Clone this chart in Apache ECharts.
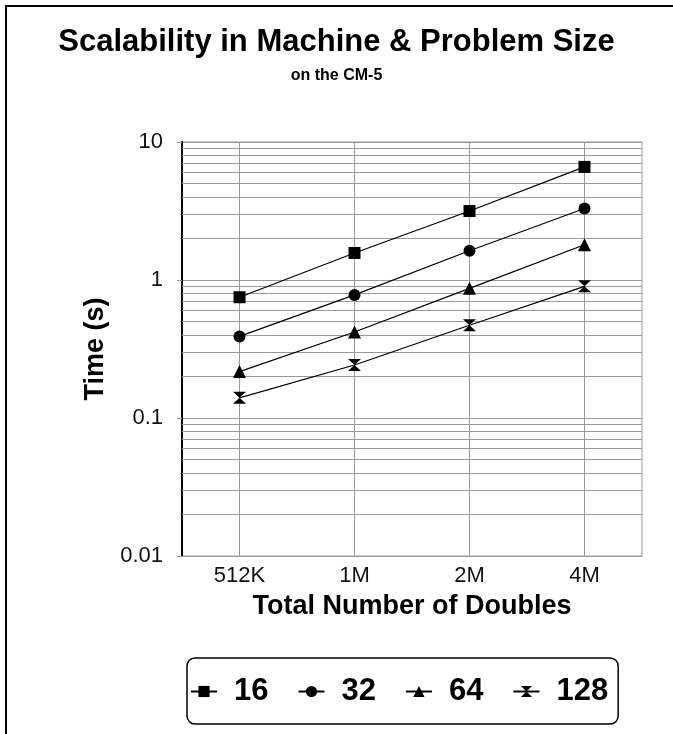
<!DOCTYPE html>
<html>
<head>
<meta charset="utf-8">
<script src="https://cdn.jsdelivr.net/npm/echarts@6/dist/echarts.min.js"></script>
<style>
  html, body { margin: 0; padding: 0; background: #fff; }
  #frame { position: absolute; left: 5px; top: 5px; right: -5px; bottom: -5px; border-top: 2px solid #000; border-left: 2px solid #000; }
  #chart { position: absolute; left: 0; top: 0; width: 673px; height: 734px; }
</style>
</head>
<body>
<div id="frame"></div>
<div id="chart"></div>
<script>
// problem sizes on the x axis
const sizes = ['512K', '1M', '2M', '4M']
// number of processors -> time in seconds
const procNames = ['16', '32', '64', '128']
const time16 = [0.75, 1.57, 3.16, 6.6]
const time32 = [0.39, 0.78, 1.63, 3.3]
const time64 = [0.217, 0.42, 0.87, 1.8]
const time128 = [0.14, 0.242, 0.47, 0.9]
// minor gridlines of the log axis
const minorLines = [
  0.02, 0.03, 0.04, 0.05, 0.06, 0.07, 0.08, 0.09,
  0.2, 0.3, 0.4, 0.5, 0.6, 0.7, 0.8, 0.9,
  2, 3, 4, 5, 6, 7, 8, 9,
]

const FONT = '"Liberation Sans", Arial, sans-serif'
const GRID = '#999'

const hourglass = 'path://M0,0L12,0L6,6L12,12L0,12L6,6Z'

const mkSeries = (name, data, symbol, size) => ({
  name,
  type: 'line',
  data,
  symbol,
  symbolSize: size,
  z: 3,
  itemStyle: {color: '#000'},
  lineStyle: {color: '#000', width: 1.2},
})

const chart = echarts.init(document.getElementById('chart'))

const option = {
  animation: false,
  backgroundColor: 'transparent',
  textStyle: {fontFamily: FONT},
  title: [
    {
      text: 'Scalability in Machine & Problem Size',
      left: 'center',
      top: 22,
      textStyle: {fontFamily: FONT, fontSize: 31, fontWeight: 'bold', color: '#000'},
    },
    {
      text: 'on the CM-5',
      left: 'center',
      top: 63,
      textStyle: {fontFamily: FONT, fontSize: 16, fontWeight: 'bold', color: '#000'},
    },
  ],
  legend: {
    data: procNames,
    left: 187,
    top: 658,
    orient: 'horizontal',
    itemWidth: 26,
    itemHeight: 14,
    itemGap: 29,
    borderColor: '#000',
    borderWidth: 1.5,
    borderRadius: 8,
    padding: [18, 10, 17, 3],
    textStyle: {fontFamily: FONT, fontSize: 31, fontWeight: 'bold', color: '#000', padding: [0, 0, 0, 12]},
  },
  grid: {
    left: 182,
    right: 31,
    top: 142,
    bottom: 178,
    show: true,
    borderColor: GRID,
    borderWidth: 1,
  },
  xAxis: {
    type: 'category',
    data: sizes,
    boundaryGap: true,
    name: 'Total Number of Doubles',
    nameLocation: 'middle',
    nameGap: 37,
    nameTextStyle: {fontFamily: FONT, fontSize: 27, fontWeight: 'bold', color: '#000'},
    axisLine: {lineStyle: {color: GRID, width: 1}},
    axisTick: {alignWithLabel: true, length: 6, lineStyle: {color: GRID}},
    axisLabel: {fontFamily: FONT, fontSize: 22, color: '#111', margin: 9},
    splitLine: {show: false},
  },
  yAxis: {
    type: 'log',
    logBase: 10,
    min: 0.01,
    max: 10,
    name: 'Time (s)',
    nameLocation: 'middle',
    nameRotate: 90,
    nameGap: 70,
    nameTextStyle: {fontFamily: FONT, fontSize: 27, fontWeight: 'bold', color: '#000'},
    axisLine: {show: true, lineStyle: {color: '#000', width: 2}},
    axisTick: {show: true, length: 5, lineStyle: {color: GRID}},
    axisLabel: {
      fontFamily: FONT,
      fontSize: 22,
      color: '#111',
      margin: 19,
      formatter: (v) => String(parseFloat(Number(v).toPrecision(3))),
    },
    splitLine: {show: true, lineStyle: {color: GRID, width: 1}},
  },
  series: [
    // grid lines: verticals through category centres, minor log lines
    {
      name: 'grid',
      type: 'line',
      data: [],
      z: 1,
      silent: true,
      markLine: {
        z: 1,
        silent: true,
        symbol: 'none',
        label: {show: false},
        lineStyle: {color: GRID, type: 'solid', width: 1},
        data: sizes.map((s) => ({xAxis: s})).concat(minorLines.map((v) => ({yAxis: v}))),
      },
    },
    mkSeries('16', time16, 'rect', 12),
    mkSeries('32', time32, 'circle', 12),
    mkSeries('64', time64, 'triangle', 13),
    mkSeries('128', time128, hourglass, [13, 12]),
  ],
}

chart.setOption(option)
</script>
</body>
</html>
